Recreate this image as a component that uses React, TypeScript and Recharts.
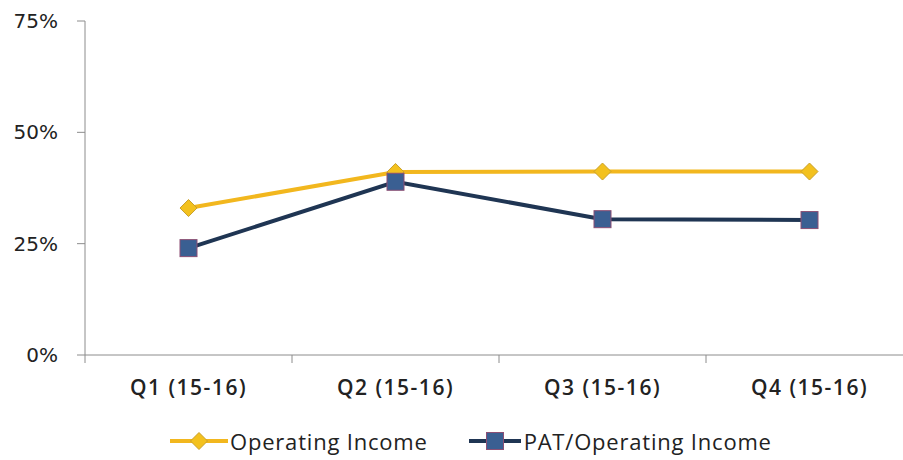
import React from 'react';
import { LineChart, Line, XAxis, YAxis, Legend } from 'recharts';

const categories = ['Q1 (15-16)', 'Q2 (15-16)', 'Q3 (15-16)', 'Q4 (15-16)'];
const operatingIncome = [33.0, 41.1, 41.2, 41.2];
const patOperatingIncome = [24.0, 38.9, 30.5, 30.3];
const yTicks = [0, 25, 50, 75];
const seriesNames = ['Operating Income', 'PAT/Operating Income'];

const data = categories.map((c, i) => ({
  name: c,
  op: operatingIncome[i],
  pat: patOperatingIncome[i],
}));

const YELLOW = '#F2B71E';
const NAVY = '#1F3553';
const AXIS = '#8c8c8c';

const Diamond = (props: any) => {
  const { cx, cy } = props;
  if (cx == null || cy == null) return null;
  const r = 8.5;
  return (
    <path
      d={`M${cx},${cy - r} L${cx + r},${cy} L${cx},${cy + r} L${cx - r},${cy} Z`}
      fill="#F3C11E"
      stroke="#C9A02A"
      strokeWidth={1}
    />
  );
};

const Square = (props: any) => {
  const { cx, cy } = props;
  if (cx == null || cy == null) return null;
  const h = 8.5;
  return (
    <rect x={cx - h} y={cy - h} width={2 * h} height={2 * h} fill="#3A5F92" stroke="#8B4F74" strokeWidth={1} />
  );
};

const XTick = (props: any) => {
  const { x, y, payload, index, visibleTicksCount } = props;
  const off = payload && payload.offset ? payload.offset : 0;
  const axisY = y - 8;
  const last = index === (visibleTicksCount ?? categories.length) - 1;
  return (
    <g>
      <line x1={x - off} y1={axisY} x2={x - off} y2={axisY + 8} stroke={AXIS} strokeWidth={1} />
      {last ? <line x1={x + off} y1={axisY} x2={x + off} y2={axisY + 8} stroke={AXIS} strokeWidth={1} /> : null}
      <text
        x={x}
        y={y + 32}
        textAnchor="middle"
        fill="#222"
        style={{ fontFamily: '"Open Sans", sans-serif', fontSize: 21, fontWeight: 600, letterSpacing: 1.5 }}
      >
        {payload.value}
      </text>
    </g>
  );
};

const LegendContent = () => (
  <div
    style={{
      display: 'flex',
      alignItems: 'center',
      paddingLeft: 170,
      height: 26,
      fontFamily: '"Open Sans", sans-serif',
      fontSize: 22,
      letterSpacing: 0.8,
      color: '#222',
    }}
  >
    <svg width={58} height={20} style={{ display: 'block' }}>
      <line x1={0} y1={10} x2={58} y2={10} stroke={YELLOW} strokeWidth={4} />
      <path d="M29,1.5 L37.5,10 L29,18.5 L20.5,10 Z" fill="#F3C11E" stroke="#C9A02A" strokeWidth={1} />
    </svg>
    <span style={{ marginLeft: 2 }}>{seriesNames[0]}</span>
    <svg width={52} height={20} style={{ display: 'block', marginLeft: 41 }}>
      <line x1={0} y1={10} x2={52} y2={10} stroke={NAVY} strokeWidth={4} />
      <rect x={17.5} y={1.5} width={17} height={17} fill="#3A5F92" stroke="#8B4F74" strokeWidth={1} />
    </svg>
    <span style={{ marginLeft: 3 }}>{seriesNames[1]}</span>
  </div>
);

export default function App() {
  return (
    <div style={{ position: 'absolute', left: 0, top: 0, width: 903, height: 460, background: '#fff' }}>
      <LineChart width={903} height={460} data={data} margin={{ top: 21, right: -10, left: 0, bottom: 45 }}>
        <XAxis
          dataKey="name"
          scale="band"
          axisLine={{ stroke: AXIS }}
          tickLine={false}
          tickSize={8}
          tickMargin={0}
          height={60}
          interval={0}
          tick={<XTick />}
        />
        <YAxis
          width={85}
          domain={[0, 75]}
          ticks={yTicks}
          interval={0}
          axisLine={{ stroke: AXIS }}
          tickLine={{ stroke: AXIS }}
          tickSize={8}
          tickMargin={19}
          tickFormatter={(v: number) => `${v}%`}
          tick={{ fill: '#222', fontFamily: '"DejaVu Sans", sans-serif', fontSize: 20 }}
        />
        <Legend verticalAlign="middle" align="center" layout="horizontal" content={<LegendContent />} wrapperStyle={{ top: 428, left: 0, width: 903 }} />
        <Line
          dataKey="op"
          name={seriesNames[0]}
          stroke={YELLOW}
          strokeWidth={4}
          dot={<Diamond />}
          activeDot={false}
          isAnimationActive={false}
        />
        <Line
          dataKey="pat"
          name={seriesNames[1]}
          stroke={NAVY}
          strokeWidth={4}
          dot={<Square />}
          activeDot={false}
          isAnimationActive={false}
        />
      </LineChart>
    </div>
  );
}
